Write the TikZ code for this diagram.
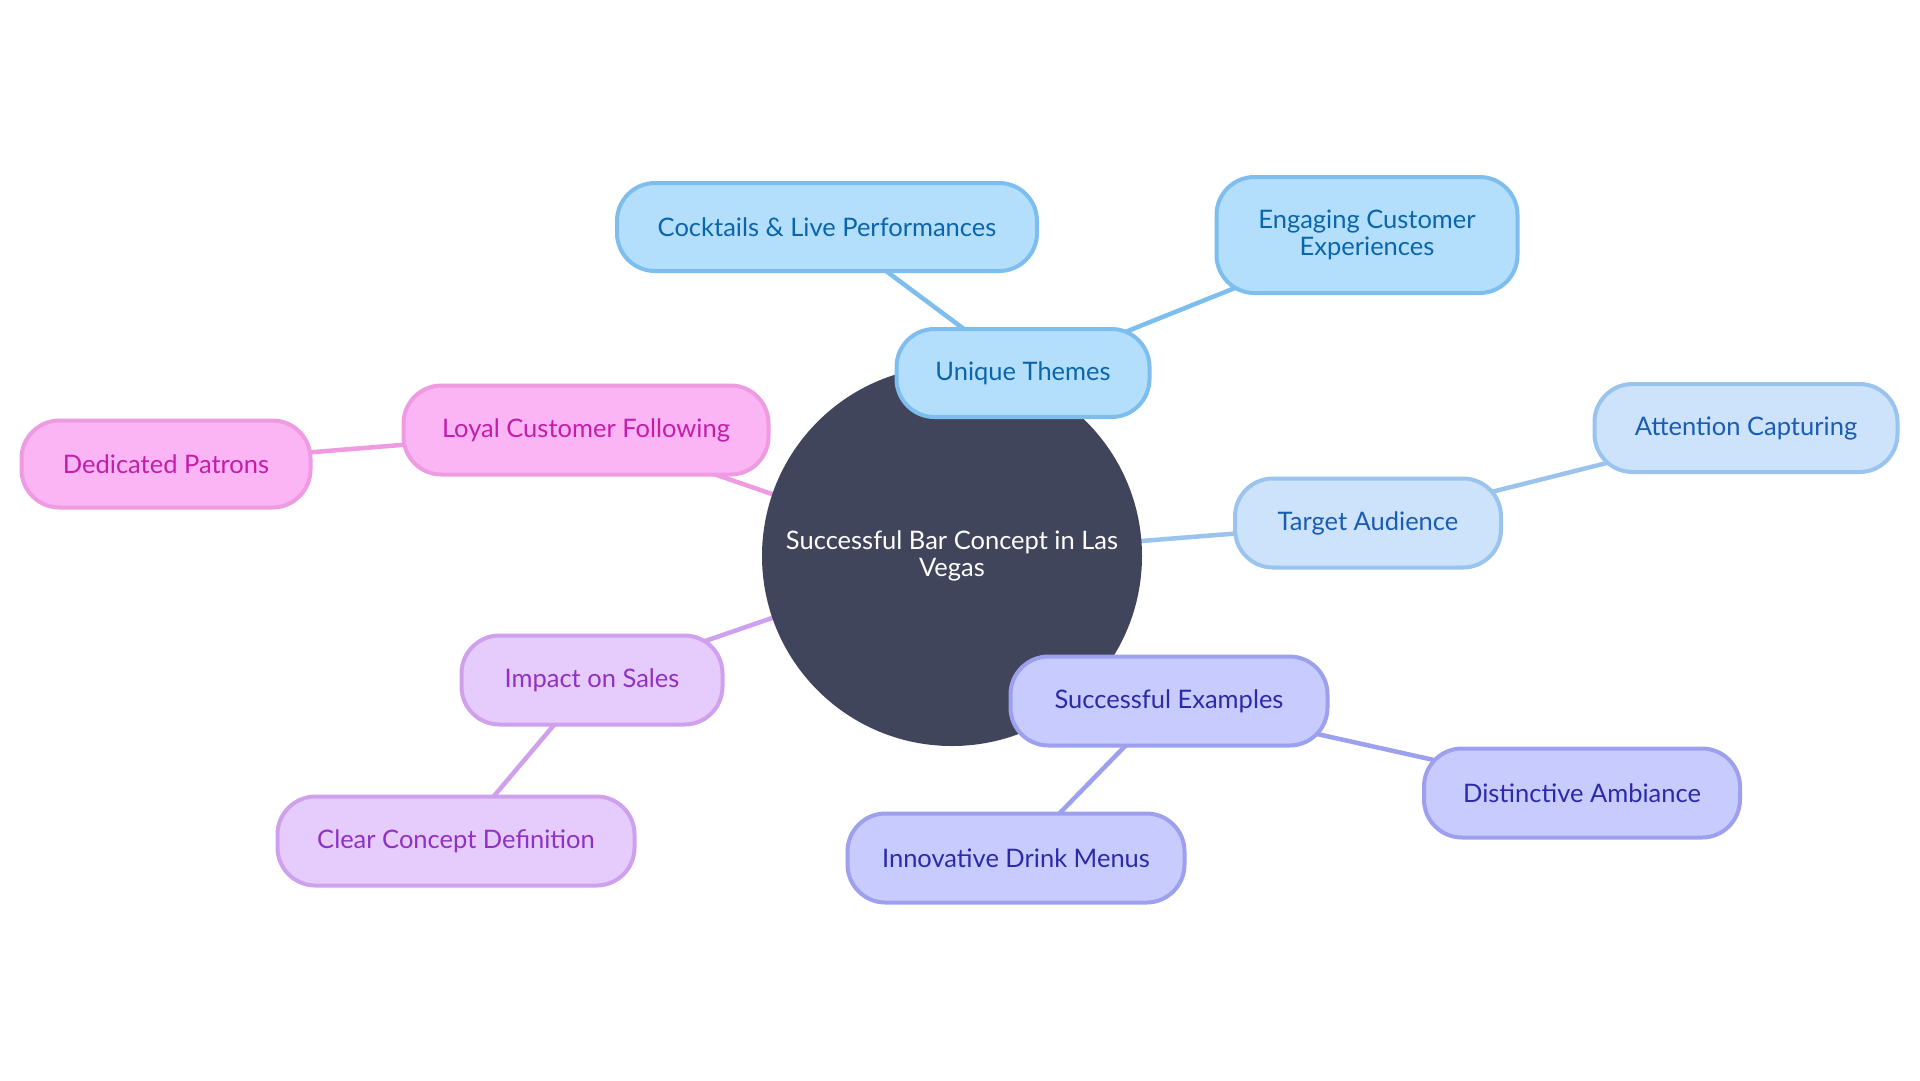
\documentclass[tikz,border=0pt]{standalone}
\usepackage{fontspec}
\setmainfont{Lato}
\usetikzlibrary{backgrounds}
\definecolor{ctrfill}{HTML}{40455C}
\definecolor{bluefill}{HTML}{B3DFFD}
\definecolor{blueline}{HTML}{7DBEEE}
\definecolor{bluetext}{HTML}{0B65AA}
\definecolor{tafill}{HTML}{CCE3FB}
\definecolor{taline}{HTML}{9AC3EE}
\definecolor{tatext}{HTML}{1B5CB3}
\definecolor{sefill}{HTML}{C8CBFD}
\definecolor{seline}{HTML}{9CA0EE}
\definecolor{setext}{HTML}{2B2BAA}
\definecolor{ipfill}{HTML}{E6CCFC}
\definecolor{ipline}{HTML}{CFA0EE}
\definecolor{iptext}{HTML}{8F31C4}
\definecolor{lcfill}{HTML}{FBB5F4}
\definecolor{lcline}{HTML}{EE9BE1}
\definecolor{lctext}{HTML}{C41DAA}
\begin{document}
\begin{tikzpicture}[x=1pt,y=-1pt,
  box/.style={rectangle, rounded corners=38pt, line width=4pt, inner sep=0pt, align=center,
    font=\fontsize{25.5}{27}\selectfont},
  bluebox/.style={box, fill=bluefill, draw=blueline, text=bluetext},
  tabox/.style={box, fill=tafill, draw=taline, text=tatext},
  sebox/.style={box, fill=sefill, draw=seline, text=setext},
  ipbox/.style={box, fill=ipfill, draw=ipline, text=iptext},
  lcbox/.style={box, fill=lcfill, draw=lcline, text=lctext},
  link/.style={line width=4.5pt}]
\useasboundingbox (0,0) rectangle (1920,1080);
\node[circle, fill=ctrfill, minimum size=380pt, inner sep=0pt, text=white, align=center,
  font=\fontsize{25.5}{27}\selectfont] (c) at (952,556) {Successful Bar Concept in Las\\Vegas};
\node[bluebox, minimum width=253pt, minimum height=88pt] (ut) at (1023,373) {Unique Themes};
\node[bluebox, minimum width=420pt, minimum height=88pt] (ck) at (827,227) {Cocktails \& Live Performances};
\node[bluebox, minimum width=301pt, minimum height=116pt] (ec) at (1367,235) {Engaging Customer\\Experiences};
\node[tabox, minimum width=266pt, minimum height=89pt] (ta) at (1368,523) {Target Audience};
\node[tabox, minimum width=303pt, minimum height=88pt] (ac) at (1746,428) {Attention Capturing};
\node[sebox, minimum width=317pt, minimum height=89pt] (se) at (1169,701) {Successful Examples};
\node[sebox, minimum width=337pt, minimum height=89pt] (id) at (1016,858) {Innovative Drink Menus};
\node[sebox, minimum width=316pt, minimum height=89pt] (da) at (1582,793) {Distinctive Ambiance};
\node[ipbox, minimum width=261pt, minimum height=89pt] (ip) at (592,680) {Impact on Sales};
\node[ipbox, minimum width=357pt, minimum height=89pt] (cc) at (456,841) {Clear Concept Definition};
\node[lcbox, minimum width=365pt, minimum height=89pt] (lc) at (586,430) {Loyal Customer Following};
\node[lcbox, minimum width=289pt, minimum height=87pt] (dp) at (166,464) {Dedicated Patrons};
\begin{scope}[on background layer]
  \draw[link, blueline] (c.center) -- (ut.center);
  \draw[link, blueline] (ut.center) -- (ck.center);
  \draw[link, blueline] (ut.center) -- (ec.center);
  \draw[link, taline] (c.center) -- (ta.center);
  \draw[link, taline] (ta.center) -- (ac.center);
  \draw[link, seline] (c.center) -- (se.center);
  \draw[link, seline] (se.center) -- (id.center);
  \draw[link, seline] (se.center) -- (da.center);
  \draw[link, ipline] (c.center) -- (ip.center);
  \draw[link, ipline] (ip.center) -- (cc.center);
  \draw[link, lcline] (c.center) -- (lc.center);
  \draw[link, lcline] (lc.center) -- (dp.center);
\end{scope}
\end{tikzpicture}
\end{document}
